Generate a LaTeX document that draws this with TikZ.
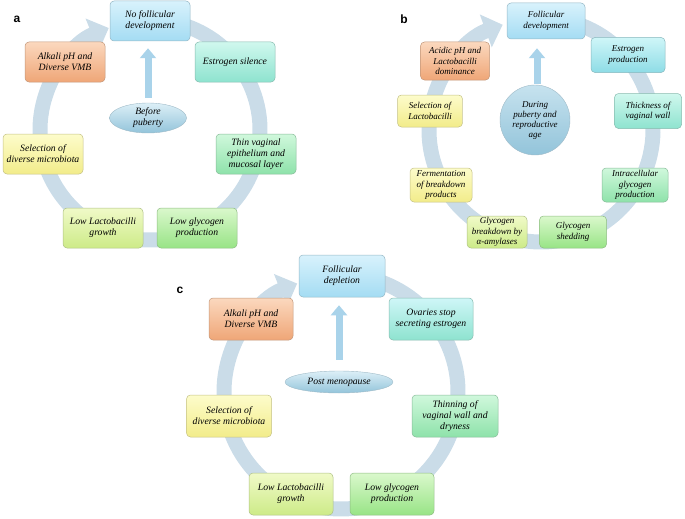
\documentclass[tikz,border=0pt]{standalone}
\usepackage{fontspec}
\setmainfont{Liberation Serif}
\newfontfamily\labfont{Liberation Sans}
\usetikzlibrary{arrows.meta,shapes.geometric}
\definecolor{ringc}{HTML}{CADCE8}
\definecolor{uparrow}{HTML}{A9D3EA}
\definecolor{bluT}{HTML}{D8F2FC}\definecolor{bluB}{HTML}{A4DCF3}
\definecolor{cyaT}{HTML}{CFF6F8}\definecolor{cyaB}{HTML}{8EDCE6}
\definecolor{aquT}{HTML}{D0F8EE}\definecolor{aquB}{HTML}{8EE3CF}
\definecolor{minT}{HTML}{D0F8DC}\definecolor{minB}{HTML}{8EE2AA}
\definecolor{grnT}{HTML}{DAF8CC}\definecolor{grnB}{HTML}{98E486}
\definecolor{ylgT}{HTML}{F0FAC8}\definecolor{ylgB}{HTML}{CDEB88}
\definecolor{yelT}{HTML}{FDFCCB}\definecolor{yelB}{HTML}{F2EC8A}
\definecolor{ornT}{HTML}{FBD8BE}\definecolor{ornB}{HTML}{EFA677}
\definecolor{ellT}{HTML}{DCEFF7}\definecolor{ellB}{HTML}{93C4DA}
\begin{document}
\begin{tikzpicture}[x=1pt,y=1pt,
  bx/.style 2 args={top color=#1, bottom color=#2, draw=#2!75!black!80, line width=0.5pt,
     rounded corners=4pt, align=center, inner sep=1pt, text=black},
  fa/.style={font=\itshape\fontsize{9.7}{11}\selectfont, minimum width=80pt, minimum height=40pt},
  fb/.style={font=\itshape\fontsize{9}{10.4}\selectfont},
  ringarrow/.style={draw=ringc, line width=15pt, -{Triangle[width=34pt,length=18pt]}},
  uparr/.style={draw=uparrow, line width=7pt, -{Triangle[width=16pt,length=10pt]}},
  plabel/.style={font=\labfont\bfseries\fontsize{12}{12}\selectfont, inner sep=0pt}]
\useasboundingbox (0,0) rectangle (685,-519);
% ---------------- panel a ----------------
\draw[ringarrow] ([shift={(150,-130)}]80:110) arc[start angle=80, end angle=-248, radius=110];
\node[bx={bluT}{bluB}, fa] (a1) at (150,-21) {No follicular\\development};
\node[bx={aquT}{aquB}, fa] (a2) at (235,-62) {Estrogen silence};
\node[bx={minT}{minB}, fa] (a3) at (256,-154) {Thin vaginal\\epithelium and\\mucosal layer};
\node[bx={grnT}{grnB}, fa] (a4) at (197,-228) {Low glycogen\\production};
\node[bx={ylgT}{ylgB}, fa] (a5) at (103,-228) {Low Lactobacilli\\growth};
\node[bx={yelT}{yelB}, fa] (a6) at (43,-154) {Selection of\\diverse microbiota};
\node[bx={ornT}{ornB}, fa] (a7) at (65,-62) {Alkali pH and\\Diverse VMB};
\node[ellipse, top color=ellT, bottom color=ellB, draw=ellB!80!black!70, line width=0.4pt,
  minimum width=77pt, minimum height=30pt, inner sep=0pt, align=center,
  font=\itshape\fontsize{9.7}{11}\selectfont] (ae) at (148,-118) {Before\\puberty};
\draw[uparr, shorten <=5pt, shorten >=7pt] (ae.north) -- (ae.north |- a1.south);
\node[plabel] (la) at (17,-19) {a};
% ---------------- panel b ----------------
\draw[ringarrow] ([shift={(541,-130)}]80:112) arc[start angle=80, end angle=-250, radius=112];
\node[bx={bluT}{bluB}, fb, minimum width=78pt, minimum height=36pt] (b1) at (546,-21) {Follicular\\development};
\node[bx={cyaT}{cyaB}, fb, minimum width=74pt, minimum height=35pt] (b2) at (628,-55) {Estrogen\\production};
\node[bx={aquT}{aquB}, fb, minimum width=67pt, minimum height=35pt] (b3) at (648,-111) {Thickness of\\vaginal wall};
\node[bx={minT}{minB}, fb, minimum width=66pt, minimum height=34pt] (b4) at (635,-185) {Intracellular\\glycogen\\production};
\node[bx={grnT}{grnB}, fb, minimum width=67pt, minimum height=32pt] (b5) at (573,-232) {Glycogen\\shedding};
\node[bx={ylgT}{ylgB}, fb, minimum width=60pt, minimum height=32pt] (b6) at (497,-232) {Glycogen\\breakdown by\\α-amylases};
\node[bx={yelT}{yelB}, fb, minimum width=62pt, minimum height=34pt] (b7) at (441,-185) {Fermentation\\of breakdown\\products};
\node[bx={yelT}{yelB}, fb, minimum width=65pt, minimum height=32pt] (b8) at (430,-111) {Selection of\\Lactobacilli};
\node[bx={ornT}{ornB}, fb, minimum width=69pt, minimum height=38pt] (b9) at (455,-61) {Acidic pH and\\Lactobacilli\\dominance};
\node[circle, top color=ellT!70!ellB, bottom color=ellB, draw=ellB!80!black!70, line width=0.4pt,
  minimum size=70pt, inner sep=0pt, align=center,
  font=\itshape\fontsize{9}{10}\selectfont] (be) at (535,-120) {During\\puberty and\\reproductive\\age};
\draw[uparr, shorten <=1pt, shorten >=9pt] ([xshift=2pt]be.north) -- ([xshift=2pt]be.north |- b1.south);
\node[plabel] (lb) at (404,-19) {b};
% ---------------- panel c ----------------
\draw[ringarrow] ([shift={(341,-392)}]80:117) arc[start angle=80, end angle=-248, radius=117];
\node[bx={bluT}{bluB}, fa, minimum width=86pt, minimum height=42pt] (c1) at (342,-276) {Follicular\\depletion};
\node[bx={cyaT}{aquB}, fa, minimum width=84pt, minimum height=42pt] (c2) at (431,-319) {Ovaries stop\\secreting estrogen};
\node[bx={minT}{minB}, fa, minimum width=86pt, minimum height=42pt] (c3) at (455,-416) {Thinning of\\vaginal wall and\\dryness};
\node[bx={grnT}{grnB}, fa, minimum width=84pt, minimum height=42pt] (c4) at (392,-494) {Low glycogen\\production};
\node[bx={ylgT}{ylgB}, fa, minimum width=84pt, minimum height=42pt] (c5) at (291,-494) {Low Lactobacilli\\growth};
\node[bx={yelT}{yelB}, fa, minimum width=85pt, minimum height=42pt] (c6) at (229,-416) {Selection of\\diverse microbiota};
\node[bx={ornT}{ornB}, fa, minimum width=84pt, minimum height=42pt] (c7) at (251,-319) {Alkali pH and\\Diverse VMB};
\node[ellipse, top color=ellT, bottom color=ellB, draw=ellB!80!black!70, line width=0.4pt,
  minimum width=108pt, minimum height=22pt, inner sep=0pt, align=center,
  font=\itshape\fontsize{9.7}{11}\selectfont] (ce) at (339,-382) {Post menopause};
\draw[uparr, shorten <=11pt, shorten >=8pt] (ce.north) -- (ce.north |- c1.south);
\node[plabel] (lc) at (180,-290) {c};
\end{tikzpicture}
\end{document}
